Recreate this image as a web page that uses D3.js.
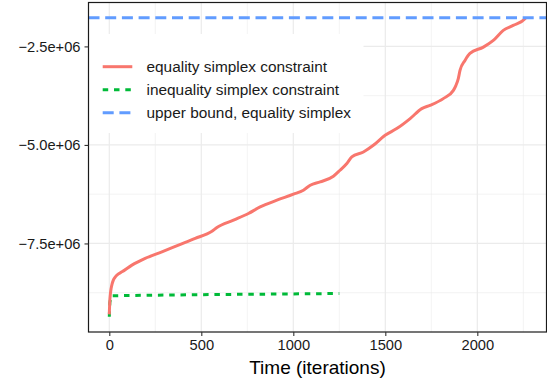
<!DOCTYPE html>
<html>
<head>
<meta charset="utf-8">
<script src="https://cdn.jsdelivr.net/npm/d3@7"></script>
<style>
  body { margin: 0; background: #fff; }
  svg text { font-family: "Liberation Sans", Arial, sans-serif; }
</style>
</head>
<body>
<svg id="chart" width="547" height="381"></svg>
<script>
// objective value over time
var equalityX = [0, 3, 6, 10, 15, 22, 33, 48, 69, 123, 195, 286, 376, 467, 558, 585, 675, 756, 820, 911, 1001, 1055, 1092, 1146,
    1218, 1254, 1291, 1318, 1381, 1435, 1499, 1562, 1635, 1698, 1743, 1815, 1870, 1884, 1897, 1906, 1933,
    1960, 2033, 2087, 2141, 2195, 2259, 2263];
var equalityY = [-9.30e6, -8.95e6, -8.78e6, -8.64e6, -8.53e6, -8.43e6, -8.35e6, -8.28e6, -8.22e6, -8.05e6, -7.88e6, -7.713e6, -7.543e6, -7.373e6,
    -7.188e6, -7.095e6, -6.91e6, -6.74e6, -6.572e6, -6.403e6, -6.251e6, -6.149e6, -6.023e6, -5.939e6,
    -5.794e6, -5.642e6, -5.473e6, -5.305e6, -5.179e6, -5.009e6, -4.755e6, -4.586e6, -4.332e6, -4.079e6,
    -3.995e6, -3.825e6, -3.615e6, -3.488e6, -3.311e6, -3.108e6, -2.855e6, -2.677e6, -2.518e6, -2.348e6,
    -2.094e6, -1.968e6, -1.798e6, -1.773e6];
var inequalityX = [0, 3, 10, 100, 500, 1000, 1250];
var inequalityY = [-9.36e6, -9.0e6, -8.83e6, -8.82e6, -8.80e6, -8.78e6, -8.77e6];
var upperBound = -1.773e6;

var xTicks = [0, 500, 1000, 1500, 2000];
var xMinor = [250, 750, 1250, 1750, 2250];
var yTicks = [-2.5e6, -5.0e6, -7.5e6];
var yTickLabels = ["\u22122.5e+06", "\u22125.0e+06", "\u22127.5e+06"];
var yMinor = [-3.75e6, -6.25e6, -8.75e6];

var seriesNames = ["equality simplex constraint", "inequality simplex constraint", "upper bound, equality simplex"];
var seriesColors = ["#F8766D", "#00BA38", "#619CFF"];
var seriesDash = [null, "5.5,5.8", "11,5.7"];

// panel edges (do not call these top/left: window.top is read-only)
var pLeft = 88.5, pRight = 546.5, pTop = 2.5, pBottom = 332;

var x = d3.scaleLinear().domain([-113, 2376]).range([pLeft, pRight]);
var y = d3.scaleLinear().domain([-9.747e6, -1.386e6]).range([pBottom, pTop]);

var svg = d3.select("#chart");

// grid
var grid = svg.append("g");
grid.selectAll(".xminor").data(xMinor).enter().append("line")
    .attr("x1", d => x(d)).attr("x2", d => x(d)).attr("y1", pTop).attr("y2", pBottom)
    .attr("stroke", "#EBEBEB").attr("stroke-width", 0.6);
grid.selectAll(".yminor").data(yMinor).enter().append("line")
    .attr("x1", pLeft).attr("x2", pRight).attr("y1", d => y(d)).attr("y2", d => y(d))
    .attr("stroke", "#EBEBEB").attr("stroke-width", 0.6);
grid.selectAll(".xmajor").data(xTicks).enter().append("line")
    .attr("x1", d => x(d)).attr("x2", d => x(d)).attr("y1", pTop).attr("y2", pBottom)
    .attr("stroke", "#EBEBEB").attr("stroke-width", 1.2);
grid.selectAll(".ymajor").data(yTicks).enter().append("line")
    .attr("x1", pLeft).attr("x2", pRight).attr("y1", d => y(d)).attr("y2", d => y(d))
    .attr("stroke", "#EBEBEB").attr("stroke-width", 1.2);

// data
var line = d3.line().x(d => x(d[0])).y(d => y(d[1]));
var plot = svg.append("g");

plot.append("path")
    .datum(d3.zip(inequalityX, inequalityY))
    .attr("d", line)
    .attr("fill", "none")
    .attr("stroke", seriesColors[1])
    .attr("stroke-width", 3)
    .attr("stroke-dasharray", seriesDash[1]);

plot.append("path")
    .datum(d3.zip(equalityX, equalityY))
    .attr("d", line.curve(d3.curveMonotoneX))
    .attr("fill", "none")
    .attr("stroke", seriesColors[0])
    .attr("stroke-width", 3)
    .attr("stroke-linejoin", "round");

plot.append("line")
    .attr("x1", pLeft).attr("x2", pRight)
    .attr("y1", y(upperBound)).attr("y2", y(upperBound))
    .attr("stroke", seriesColors[2])
    .attr("stroke-width", 3)
    .attr("stroke-dasharray", seriesDash[2]);

// legend
var legend = svg.append("g");
legend.append("rect")
    .attr("x", pLeft + 0.5).attr("y", 34).attr("width", 363 - pLeft).attr("height", 99)
    .attr("fill", "#fff");
seriesNames.forEach(function(name, i) {
    var ly = 66.7 + i * 23;
    legend.append("line")
        .attr("x1", 102.7).attr("x2", 132.3).attr("y1", ly).attr("y2", ly)
        .attr("stroke", seriesColors[i]).attr("stroke-width", 3)
        .attr("stroke-dasharray", seriesDash[i]);
    legend.append("text")
        .attr("x", 146.5).attr("y", ly + 5.5)
        .attr("font-size", 15.4).attr("fill", "#1a1a1a")
        .text(name);
});

// border
svg.append("rect")
    .attr("x", pLeft).attr("y", pTop).attr("width", pRight - pLeft).attr("height", pBottom - pTop)
    .attr("fill", "none").attr("stroke", "#1a1a1a").attr("stroke-width", 1.2);

// axes
var xAxis = d3.axisBottom(x).tickValues(xTicks).tickSize(4).tickPadding(4).tickFormat(d3.format("d"));
var gx = svg.append("g").attr("transform", "translate(0," + pBottom + ")").call(xAxis);
gx.select(".domain").remove();
gx.selectAll(".tick line").attr("stroke", "#333").attr("stroke-width", 1.1);
gx.selectAll(".tick text").attr("font-size", 14.7).attr("fill", "#1a1a1a")
    .attr("font-family", "Liberation Sans, Arial, sans-serif");

var yAxis = d3.axisLeft(y).tickValues(yTicks).tickSize(4).tickPadding(4)
    .tickFormat((d, i) => yTickLabels[i]);
var gy = svg.append("g").attr("transform", "translate(" + pLeft + ",0)").call(yAxis);
gy.select(".domain").remove();
gy.selectAll(".tick line").attr("stroke", "#333").attr("stroke-width", 1.1);
gy.selectAll(".tick text").attr("font-size", 14.7).attr("fill", "#1a1a1a")
    .attr("font-family", "Liberation Sans, Arial, sans-serif");

svg.append("text")
    .attr("x", (pLeft + pRight) / 2).attr("y", 373.5)
    .attr("text-anchor", "middle")
    .attr("font-size", 19).attr("fill", "#000")
    .text("Time (iterations)");
</script>
</body>
</html>
